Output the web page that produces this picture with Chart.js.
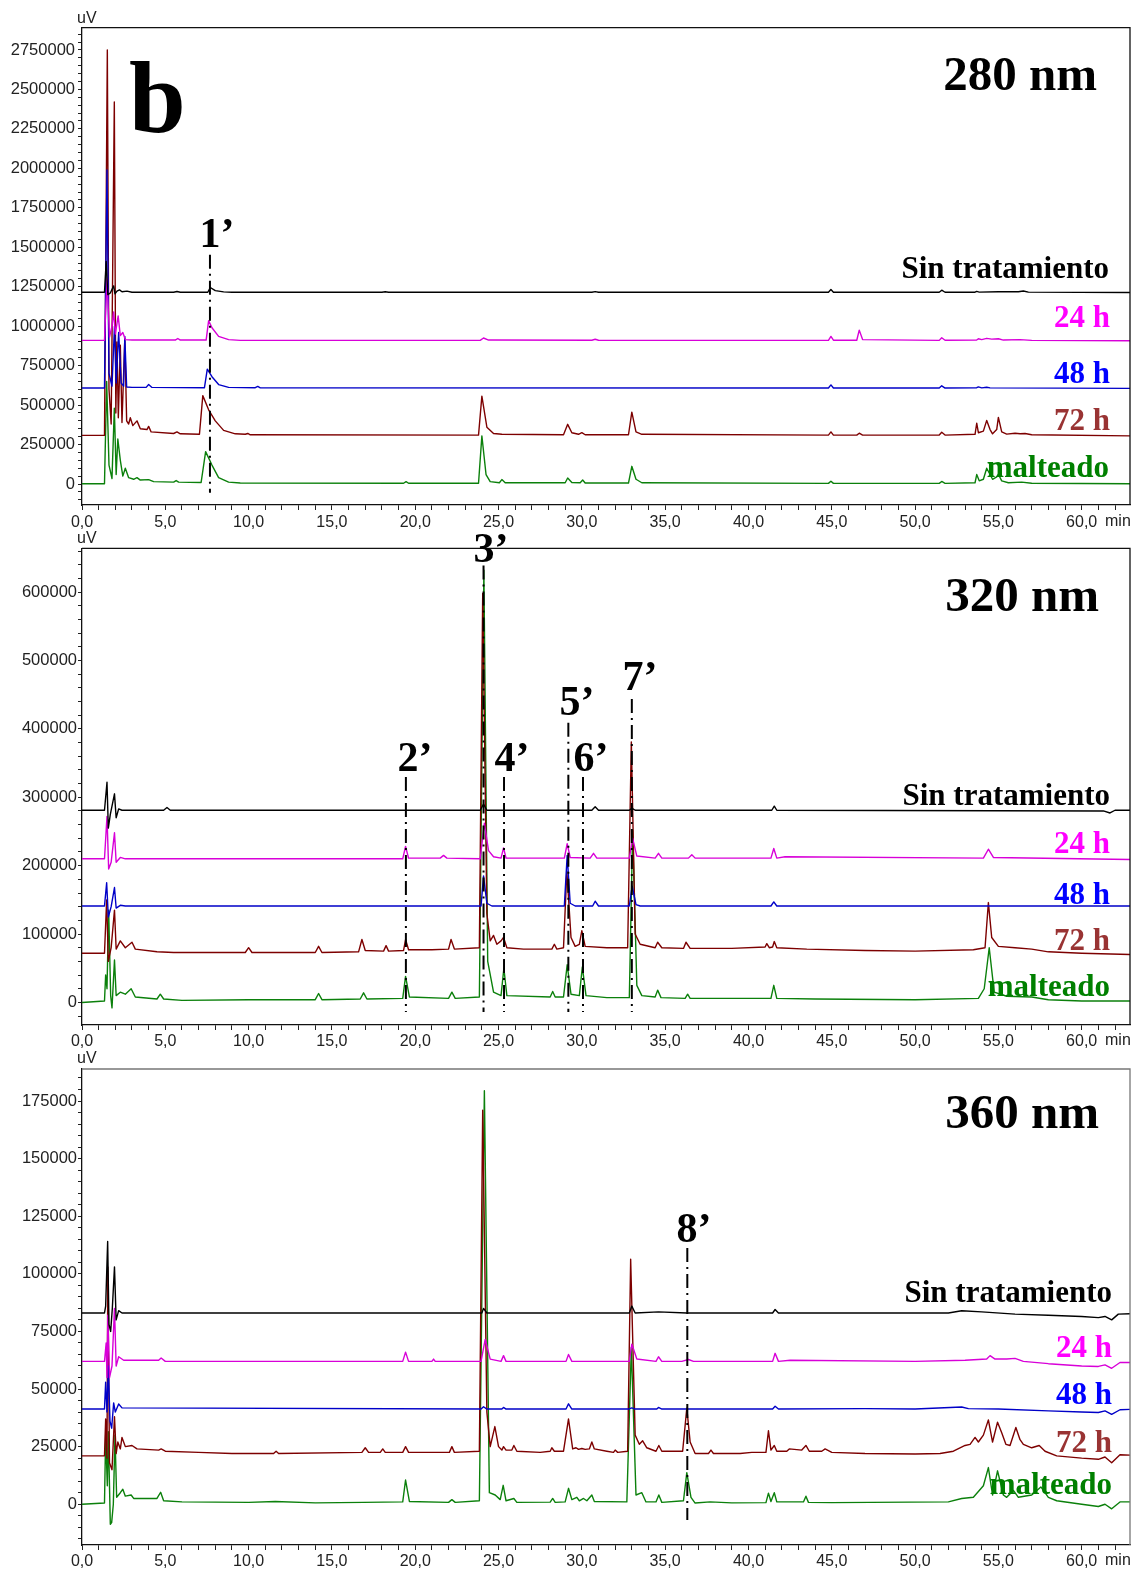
<!DOCTYPE html>
<html><head><meta charset="utf-8">
<script src="https://cdn.jsdelivr.net/npm/chart.js@4/dist/chart.umd.min.js"></script>
<style>
html,body{margin:0;padding:0;background:#fff;}
body{width:1137px;height:1573px;position:relative;overflow:hidden;}
canvas{position:absolute;left:0;}
.t{position:absolute;font-family:"Liberation Serif","Times New Roman",serif;font-weight:bold;line-height:1;white-space:nowrap;color:#000;}
.c{transform:translate(-50%,-50%);font-size:42px;}
.lab{font-size:31px;}
.nm{font-size:49px;}
.s{position:absolute;font-family:"Liberation Sans",Arial,sans-serif;font-size:16px;line-height:1;color:#222;white-space:nowrap;}
</style></head><body>
<canvas id="c280" width="1137" height="535" style="top:0px"></canvas>
<canvas id="c320" width="1137" height="518" style="top:535px"></canvas>
<canvas id="c360" width="1137" height="520" style="top:1053px"></canvas>

<div class="s" style="left:77px;top:10px">uV</div>
<div class="s" style="left:77px;top:530px">uV</div>
<div class="s" style="left:77px;top:1050px">uV</div>
<div class="s" style="left:1105px;top:513px">min</div>
<div class="s" style="left:1105px;top:1032px">min</div>
<div class="s" style="left:1105px;top:1552px">min</div>

<div class="t" style="left:129px;top:47px;font-size:102px">b</div>
<div class="t nm" style="right:40px;top:49px">280 nm</div>
<div class="t lab" style="right:28px;top:252px">Sin tratamiento</div>
<div class="t lab" style="right:27px;top:301px;color:#ff00ff">24 h</div>
<div class="t lab" style="right:27px;top:357px;color:#0000ff">48 h</div>
<div class="t lab" style="right:27px;top:404px;color:#993333">72 h</div>
<div class="t lab" style="right:28px;top:451px;color:#008000">malteado</div>
<div class="t c" style="left:217px;top:233px">1’</div>

<div class="t nm" style="right:38px;top:570px">320 nm</div>
<div class="t lab" style="right:27px;top:779px">Sin tratamiento</div>
<div class="t lab" style="right:27px;top:827px;color:#ff00ff">24 h</div>
<div class="t lab" style="right:27px;top:878px;color:#0000ff">48 h</div>
<div class="t lab" style="right:27px;top:924px;color:#993333">72 h</div>
<div class="t lab" style="right:27px;top:970px;color:#008000">malteado</div>
<div class="t c" style="left:415px;top:757px">2’</div>
<div class="t c" style="left:491px;top:548px">3’</div>
<div class="t c" style="left:512px;top:757px">4’</div>
<div class="t c" style="left:577px;top:701px">5’</div>
<div class="t c" style="left:591px;top:757px">6’</div>
<div class="t c" style="left:640px;top:676px">7’</div>

<div class="t nm" style="right:38px;top:1087px">360 nm</div>
<div class="t lab" style="right:25px;top:1276px">Sin tratamiento</div>
<div class="t lab" style="right:25px;top:1331px;color:#ff00ff">24 h</div>
<div class="t lab" style="right:25px;top:1378px;color:#0000ff">48 h</div>
<div class="t lab" style="right:25px;top:1426px;color:#993333">72 h</div>
<div class="t lab" style="right:25px;top:1468px;color:#008000">malteado</div>
<div class="t c" style="left:694px;top:1228px">8’</div>

<script>
// ---------- axis ticks ----------
const xMajorTicks = [0,5,10,15,20,25,30,35,40,45,50,55,60];
const y280MajorTicks = [0,250000,500000,750000,1000000,1250000,1500000,1750000,2000000,2250000,2500000,2750000];
const y320MajorTicks = [0,100000,200000,300000,400000,500000,600000];
const y360MajorTicks = [0,25000,50000,75000,100000,125000,150000,175000];

// ---------- 280 nm series [min, uV] ----------
const uv280_sin = [[0,1215000],[1.35,1215000],[1.45,1410000],[1.55,1200000],[1.7,1210000],[1.9,1255000],[1.98,1205000],[2.1,1222000],[2.25,1230000],[2.4,1218000],[2.7,1222000],[3.0,1215000],[5.5,1215000],[5.7,1220000],[5.9,1215000],[7.55,1215000],[7.7,1245000],[8.0,1225000],[8.5,1217000],[9,1215000],[18.0,1215000],[18.2,1218000],[18.4,1215000],[30.6,1215000],[30.8,1219000],[31.0,1215000],[44.8,1215000],[44.95,1232000],[45.1,1215000],[51.45,1215000],[51.6,1228000],[51.8,1215000],[53.6,1215000],[53.7,1220000],[53.85,1216000],[55.0,1218000],[56.2,1218000],[56.5,1223000],[56.8,1216000],[63,1213000]];
const uv280_24h = [[0,910000],[1.35,910000],[1.5,1300000],[1.65,930000],[1.8,1000000],[1.9,1090000],[2.0,950000],[2.17,1065000],[2.3,940000],[2.45,960000],[2.6,915000],[3.0,912000],[5.6,912000],[5.75,922000],[5.9,912000],[7.45,912000],[7.6,1035000],[7.8,990000],[8.2,935000],[8.8,915000],[9.5,910000],[23.9,910000],[24.1,925000],[24.4,912000],[30.6,911000],[30.8,917000],[31,911000],[44.8,910000],[44.95,935000],[45.1,911000],[46.5,911000],[46.65,975000],[46.85,915000],[51.45,910000],[51.6,927000],[51.8,911000],[53.7,912000],[53.8,920000],[54.0,915000],[54.3,923000],[54.6,918000],[55.0,920000],[55.3,912000],[56.3,915000],[57,910000],[63,908000]];
const uv280_48h = [[0,608000],[1.35,608000],[1.5,1990000],[1.62,700000],[1.8,620000],[1.95,1000000],[2.05,640000],[2.2,960000],[2.35,640000],[2.5,620000],[2.57,935000],[2.68,615000],[3.0,612000],[3.85,612000],[4.0,630000],[4.2,612000],[7.35,610000],[7.52,728000],[7.8,680000],[8.2,630000],[8.8,612000],[10.4,610000],[10.55,618000],[10.7,609000],[44.8,608000],[44.95,628000],[45.1,608000],[51.45,608000],[51.6,622000],[51.8,608000],[53.7,610000],[53.8,615000],[54.0,609000],[54.3,613000],[54.5,609000],[63,606000]];
const uv280_72h = [[0,308000],[1.35,308000],[1.52,2750000],[1.62,600000],[1.75,380000],[1.94,2420000],[2.03,450000],[2.1,900000],[2.18,420000],[2.3,880000],[2.4,390000],[2.57,920000],[2.68,400000],[2.8,380000],[2.9,420000],[3.05,370000],[3.3,400000],[3.5,350000],[3.9,345000],[4.0,365000],[4.15,330000],[5.5,320000],[5.7,330000],[5.9,318000],[7.05,315000],[7.25,560000],[7.6,470000],[8.0,400000],[8.5,340000],[9.2,318000],[9.8,315000],[9.95,320000],[10.1,312000],[23.8,310000],[24.0,557000],[24.3,360000],[24.7,320000],[25.2,315000],[28.9,312000],[29.15,378000],[29.4,325000],[29.8,315000],[30.0,325000],[30.2,312000],[32.8,312000],[33.0,455000],[33.25,330000],[33.6,315000],[44.8,310000],[44.95,330000],[45.1,310000],[46.5,310000],[46.65,322000],[46.85,310000],[51.45,310000],[51.6,328000],[51.8,310000],[53.6,315000],[53.7,385000],[53.8,325000],[54.1,335000],[54.3,403000],[54.5,345000],[54.65,318000],[54.9,345000],[55.0,422000],[55.2,330000],[55.5,316000],[56.0,322000],[56.3,318000],[56.6,320000],[57.0,312000],[63,305000]];
const uv280_malt = [[0,2000],[1.35,2000],[1.48,650000],[1.62,120000],[1.8,35000],[1.94,480000],[2.05,60000],[2.15,285000],[2.3,150000],[2.45,50000],[2.6,100000],[2.8,40000],[3.1,30000],[3.3,40000],[3.5,25000],[4.0,28000],[4.3,15000],[5.5,12000],[5.65,22000],[5.8,12000],[7.15,10000],[7.42,205000],[7.8,120000],[8.2,40000],[8.8,12000],[9.5,6000],[19.3,5000],[19.45,15000],[19.6,5000],[23.8,5000],[24.0,305000],[24.25,60000],[24.5,15000],[25.05,8000],[25.2,28000],[25.4,8000],[29.0,8000],[29.15,38000],[29.4,10000],[29.9,8000],[30.05,25000],[30.2,6000],[32.8,6000],[33.0,112000],[33.25,30000],[33.6,8000],[44.8,4000],[44.95,18000],[45.1,4000],[51.45,4000],[51.6,16000],[51.8,4000],[53.6,8000],[53.7,60000],[53.85,20000],[54.1,30000],[54.3,100000],[54.5,60000],[54.65,30000],[54.9,45000],[55.0,62000],[55.2,20000],[55.6,8000],[56.4,12000],[57.0,5000],[63,2000]];
const marks280 = [[7.68,1453000,-55000]];

// ---------- 320 nm series ----------
const uv320_sin = [[0,281000],[1.35,281000],[1.5,322000],[1.58,255000],[1.7,275000],[1.95,305000],[2.05,270000],[2.2,283000],[2.4,281000],[4.9,281000],[5.1,285000],[5.3,281000],[23.9,281000],[24.1,290000],[24.3,281000],[30.6,281000],[30.8,286000],[31.0,281000],[32.85,281000],[33.0,284000],[33.2,281000],[41.4,281000],[41.55,287000],[41.7,281000],[61.3,280000],[61.7,277000],[62.0,281000],[63,281000]];
const uv320_24h = [[0,210000],[1.35,210000],[1.5,272000],[1.6,195000],[1.75,205000],[1.95,248000],[2.05,205000],[2.3,212000],[2.6,210000],[19.25,210000],[19.42,228000],[19.6,211000],[21.5,211000],[21.7,215000],[21.9,211000],[23.9,210000],[24.15,262000],[24.4,222000],[24.7,213000],[25.15,211000],[25.3,226000],[25.45,211000],[28.95,211000],[29.12,232000],[29.3,212000],[30.5,211000],[30.7,218000],[30.9,211000],[32.85,211000],[33.05,240000],[33.3,214000],[34.4,211000],[34.6,218000],[34.8,211000],[36.4,211000],[36.6,216000],[36.8,211000],[41.35,211000],[41.52,225000],[41.7,211000],[42.2,213000],[54.1,211000],[54.4,224000],[54.7,212000],[63,209000]];
const uv320_48h = [[0,141000],[1.35,141000],[1.48,175000],[1.58,125000],[1.75,140000],[1.95,168000],[2.05,138000],[2.3,142000],[2.6,141000],[23.95,141000],[24.1,185000],[24.3,145000],[24.6,141000],[28.95,141000],[29.12,215000],[29.3,145000],[29.6,141000],[30.65,141000],[30.8,148000],[31.0,141000],[32.85,141000],[33.02,170000],[33.25,143000],[33.5,141000],[41.35,141000],[41.52,147000],[41.7,141000],[63,141000]];
const uv320_72h = [[0,72000],[1.35,72000],[1.48,150000],[1.58,60000],[1.75,80000],[1.95,135000],[2.05,78000],[2.3,90000],[2.6,80000],[3.0,88000],[3.2,78000],[4.5,74000],[5.5,73000],[9.8,73000],[10.0,80000],[10.2,73000],[14.0,73000],[14.2,82000],[14.4,73000],[16.6,74000],[16.8,92000],[17.0,76000],[18.1,75000],[18.25,83000],[18.4,75000],[19.3,76000],[19.42,92000],[19.6,77000],[21.0,77000],[22.0,78000],[22.15,92000],[22.35,78000],[23.85,80000],[24.05,598000],[24.3,130000],[24.5,90000],[24.7,98000],[24.9,85000],[25.15,90000],[25.3,95000],[25.5,80000],[26.5,78000],[28.2,78000],[28.35,85000],[28.5,78000],[28.9,80000],[29.1,192000],[29.35,95000],[29.6,82000],[29.85,85000],[30.0,105000],[30.2,82000],[31.5,80000],[32.75,80000],[32.97,381000],[33.2,100000],[33.5,85000],[34.4,80000],[34.55,88000],[34.8,80000],[36.1,79000],[36.25,88000],[36.5,79000],[39.0,79000],[41.0,81000],[41.1,86000],[41.25,80000],[41.45,81000],[41.55,89000],[41.7,80000],[43.5,78000],[47,76000],[50,75000],[53.5,77000],[54.2,80000],[54.4,146000],[54.6,95000],[55.0,82000],[56.0,80000],[57.0,78000],[58.0,74000],[60,72000],[63,70000]];
const uv320_malt = [[0,0],[1.35,2000],[1.42,40000],[1.5,20000],[1.6,135000],[1.72,10000],[1.8,-8000],[1.95,62000],[2.05,10000],[2.3,15000],[2.6,12000],[2.95,20000],[3.2,8000],[4.5,5000],[4.7,12000],[4.9,5000],[6,3000],[10,4000],[14.0,4000],[14.2,13000],[14.4,4000],[16.7,5000],[16.9,14000],[17.1,5000],[19.25,6000],[19.42,38000],[19.65,8000],[22.0,6000],[22.2,15000],[22.4,6000],[23.85,8000],[24.12,632000],[24.35,60000],[24.7,15000],[25.15,10000],[25.32,50000],[25.5,10000],[28.1,8000],[28.25,16000],[28.4,8000],[28.9,8000],[29.12,55000],[29.35,12000],[29.85,10000],[30.03,52000],[30.25,10000],[31.5,7000],[32.85,7000],[33.05,252000],[33.3,25000],[33.6,10000],[34.4,8000],[34.55,18000],[34.75,7000],[36.2,6000],[36.35,12000],[36.5,6000],[40,6000],[41.35,6000],[41.52,25000],[41.7,6000],[44,5000],[50,4000],[53.8,6000],[54.15,20000],[54.45,80000],[54.75,15000],[55.5,9000],[57.0,8000],[58.0,4000],[60.0,2000],[63,2000]];
const marks320 = [[19.44,329700,-14000],[24.1,639000,-14000],[25.33,329700,-14000],[29.19,409000,-14000],[30.07,329700,-14000],[33.0,443700,-14000]];

// ---------- 360 nm series ----------
const uv360_sin = [[0,83000],[1.35,83000],[1.42,86000],[1.54,114000],[1.62,78000],[1.72,75000],[1.82,85000],[1.95,103000],[2.05,80000],[2.2,84000],[2.4,83000],[24.0,83000],[24.1,85000],[24.3,83000],[32.85,83000],[33.0,86000],[33.2,83000],[34.6,83500],[36.3,83000],[41.45,83000],[41.6,84500],[41.8,83000],[52.0,83000],[52.8,84000],[54.0,83500],[56.0,82500],[58.0,82000],[60.0,81500],[61.0,81000],[61.4,81500],[61.8,80000],[62.2,82500],[63,82700]];
const uv360_24h = [[0,62000],[1.35,62000],[1.45,70000],[1.5,55000],[1.55,82000],[1.65,55000],[1.8,60000],[1.95,85000],[2.05,60000],[2.2,64000],[2.5,62500],[4.6,62500],[4.75,63500],[5,62000],[19.25,62000],[19.42,66000],[19.6,62000],[21.0,62000],[21.1,63000],[21.2,62000],[23.95,62000],[24.2,71500],[24.5,63000],[25.15,62000],[25.3,64500],[25.45,62000],[29.05,62000],[29.2,65000],[29.4,62000],[32.85,62000],[33.0,69500],[33.3,63000],[34.45,62000],[34.6,64000],[34.8,62000],[36.0,62000],[36.4,62800],[36.7,62000],[41.45,62000],[41.6,65500],[41.8,62000],[42.5,62500],[50,62000],[53.0,62500],[54.3,63000],[54.5,64500],[54.8,63000],[55.5,63000],[56.0,63300],[56.5,62000],[58.0,61000],[60.0,60000],[61.0,59800],[61.4,60500],[61.8,59000],[62.3,61500],[63,61500]];
const uv360_48h = [[0,41300],[1.35,41300],[1.42,53000],[1.5,40000],[1.58,60000],[1.68,36000],[1.78,33000],[1.9,44000],[2.0,40000],[2.2,43500],[2.4,41800],[23.95,41300],[24.1,42300],[24.3,41300],[25.2,41300],[25.3,42000],[25.45,41300],[29.05,41300],[29.2,43600],[29.4,41300],[32.8,41300],[33.0,41800],[33.2,41300],[34.5,41300],[34.6,42000],[34.8,41300],[41.45,41300],[41.6,42500],[41.8,41300],[47.0,41500],[50.0,41300],[52.8,42200],[53.2,41500],[55,41300],[58,40500],[60,40000],[61.0,39800],[61.4,40500],[61.8,39000],[62.3,41000],[63,41200]];
const uv360_72h = [[0,21000],[1.35,21000],[1.42,37000],[1.5,20000],[1.55,103000],[1.65,18000],[1.8,15000],[1.95,38000],[2.05,22000],[2.15,27000],[2.3,24000],[2.4,29000],[2.6,25000],[3.0,25500],[3.3,24000],[4.6,23500],[4.75,24000],[5.0,23000],[7,22500],[9.0,22000],[11.5,22000],[11.65,23000],[11.8,22000],[16.8,22500],[17.0,24500],[17.2,22500],[17.9,22500],[18.05,24000],[18.2,22500],[19.25,22500],[19.42,25000],[19.6,22500],[22.05,22500],[22.2,25000],[22.35,22500],[23.85,23000],[24.05,171000],[24.3,40000],[24.5,25000],[24.78,33700],[25.0,25000],[25.2,23500],[25.3,25000],[25.45,23500],[25.8,23500],[25.92,25500],[26.1,23000],[27.5,22500],[28.1,23000],[28.2,24500],[28.35,23000],[28.9,23000],[29.2,37000],[29.45,24000],[29.65,24500],[29.8,23800],[30.0,24200],[30.2,23800],[30.45,24000],[30.6,27000],[30.75,24000],[31.5,23000],[31.9,22500],[32.0,23500],[32.15,22500],[32.75,23000],[32.93,106300],[33.2,30000],[33.45,26000],[33.65,27500],[33.9,24500],[34.45,23000],[34.62,25500],[34.8,23000],[36.05,23000],[36.3,41700],[36.5,27000],[36.8,22000],[37.6,22000],[37.75,23500],[37.9,22000],[39.5,22000],[40.2,22500],[41.05,22500],[41.2,31900],[41.35,23500],[41.55,25500],[41.7,23000],[42.3,23000],[42.45,24000],[43.2,23500],[43.45,25500],[43.65,23000],[44.4,23000],[44.6,24000],[45,22500],[47,22000],[50.0,21800],[51.5,22000],[52.3,23000],[53.0,25500],[53.3,26000],[53.6,29000],[53.8,27000],[54.1,30000],[54.4,36600],[54.65,27000],[54.95,35600],[55.2,31000],[55.45,26000],[55.7,25500],[56.05,33300],[56.3,28000],[56.5,26000],[57.0,24500],[57.45,25500],[57.8,23000],[58.5,21000],[60.0,20000],[61.0,19500],[61.4,20500],[61.8,18000],[62.3,21500],[63,21300]];
const uv360_malt = [[0,0],[1.35,500],[1.42,30000],[1.52,8000],[1.58,31500],[1.7,-8700],[1.78,-8000],[1.88,0],[1.98,30000],[2.08,3000],[2.3,5000],[2.45,6500],[2.6,3500],[2.95,4000],[3.1,2500],[4.5,2500],[4.72,5200],[4.9,1500],[6,1000],[10,800],[11.6,1200],[14,600],[16.9,800],[19.25,1000],[19.42,10500],[19.65,1200],[22.0,800],[22.2,2000],[22.4,800],[23.85,1500],[24.15,179500],[24.45,5000],[24.8,4000],[25.1,2000],[25.28,8200],[25.45,1500],[25.92,2500],[26.1,800],[28.1,900],[28.25,2500],[28.4,800],[29.0,1000],[29.2,6900],[29.4,2000],[29.7,3000],[29.85,1500],[30.1,2500],[30.3,1500],[30.6,4000],[30.75,1200],[32.7,1000],[32.97,68000],[33.25,4000],[33.6,5000],[33.85,1000],[34.45,1000],[34.62,4000],[34.8,800],[36.1,1500],[36.3,13700],[36.55,3000],[36.8,500],[37.7,1000],[39,600],[41.05,700],[41.2,4800],[41.35,1200],[41.55,5000],[41.7,1000],[43.3,1000],[43.45,3500],[43.6,800],[45,700],[52.0,1000],[52.8,2500],[53.5,3000],[54.1,8000],[54.4,15900],[54.65,4000],[54.95,14500],[55.3,4000],[55.5,3000],[55.9,6000],[56.2,3000],[57.0,4000],[57.55,7500],[58.0,3000],[58.5,1500],[60,0],[61.0,-1000],[61.4,0],[61.8,-2000],[62.3,1000],[63,1000]];
const marks360 = [[36.33,111200,-6800]];

// ---------- styling ----------
const seriesColors = ['#000000','#d800d8','#0000c8','#7d0000','#0b800b'];
const sansFont = '"Liberation Sans", Arial, sans-serif';

const framePlugin = {
  id: 'frame',
  afterDraw(chart, args, opts) {
    const a = chart.chartArea, ctx = chart.ctx;
    ctx.save();
    ctx.strokeStyle = opts.color || '#111';
    ctx.lineWidth = 1.3;
    ctx.beginPath();
    ctx.moveTo(a.left, a.top);
    ctx.lineTo(a.right, a.top);
    ctx.lineTo(a.right, a.bottom);
    ctx.stroke();
    ctx.restore();
  }
};

function tickList(lo, hi, step) {
  const out = [];
  for (let k = Math.ceil(lo / step); k * step <= hi; k++) out.push(k * step);
  return out;
}

function makeChart(id, cfg) {
  const datasets = [];
  cfg.marks.forEach(m => datasets.push({
    data: [[m[0], m[1]], [m[0], m[2]]],
    borderColor: '#000', borderWidth: 2, borderDash: [14, 5, 2, 5], borderCapStyle: 'butt'
  }));
  cfg.series.forEach((s, i) => datasets.push({
    data: s, borderColor: seriesColors[i], borderWidth: 1.4
  }));
  const xTicks = tickList(0, 62, 1);
  const yTicks = tickList(cfg.yMin, cfg.yMax, cfg.yMinor);
  new Chart(document.getElementById(id), {
    type: 'line',
    data: { datasets },
    plugins: [framePlugin],
    options: {
      responsive: false, animation: false, events: [],
      layout: { padding: { top: cfg.padTop, right: 7, left: 0, bottom: 0 } },
      plugins: { legend: { display: false }, tooltip: { enabled: false }, frame: { color: cfg.frameColor } },
      elements: { point: { radius: 0 }, line: { tension: 0, borderJoinStyle: 'round' } },
      scales: {
        x: {
          type: 'linear', min: 0, max: 62.9,
          afterBuildTicks(s) { s.ticks = xTicks.map(v => ({ value: v })); },
          afterFit(s) { s.height = cfg.xAxisH; },
          grid: { drawOnChartArea: false, drawTicks: true, tickLength: 5, tickColor: '#222', tickWidth: 1 },
          border: { display: true, color: '#111', width: 1.3 },
          ticks: {
            autoSkip: false, maxRotation: 0, minRotation: 0, padding: cfg.xPad, color: '#222',
            font: { family: sansFont, size: 16 },
            callback: v => xMajorTicks.includes(v) ? v.toFixed(1).replace('.', ',') : ''
          }
        },
        y: {
          type: 'linear', min: cfg.yMin, max: cfg.yMax,
          afterBuildTicks(s) { s.ticks = yTicks.map(v => ({ value: v })); },
          afterFit(s) { s.width = 82; },
          grid: { drawOnChartArea: false, drawTicks: true, tickLength: 4, tickColor: '#222', tickWidth: 1 },
          border: { display: true, color: '#111', width: 1.3 },
          ticks: {
            autoSkip: false, padding: cfg.yPad, color: '#222',
            font: { family: sansFont, size: 16.5 },
            callback: v => cfg.yMajor.includes(v) ? String(v) : ''
          }
        }
      }
    }
  });
}

makeChart('c280', {
  series: [uv280_sin, uv280_24h, uv280_48h, uv280_72h, uv280_malt], marks: marks280,
  yMin: -133000, yMax: 2891000, yMinor: 50000, yMajor: y280MajorTicks,
  padTop: 27.7, xAxisH: 30, xPad: 3, yPad: 3, frameColor: '#111'
});
makeChart('c320', {
  series: [uv320_sin, uv320_24h, uv320_48h, uv320_72h, uv320_malt], marks: marks320,
  yMin: -33000, yMax: 664000, yMinor: 20000, yMajor: y320MajorTicks,
  padTop: 13.3, xAxisH: 28, xPad: 2, yPad: 1, frameColor: '#111'
});
makeChart('c360', {
  series: [uv360_sin, uv360_24h, uv360_48h, uv360_72h, uv360_malt], marks: marks360,
  yMin: -17700, yMax: 188900, yMinor: 5000, yMajor: y360MajorTicks,
  padTop: 16, xAxisH: 28, xPad: 2, yPad: 1, frameColor: '#777'
});
</script>
</body></html>
